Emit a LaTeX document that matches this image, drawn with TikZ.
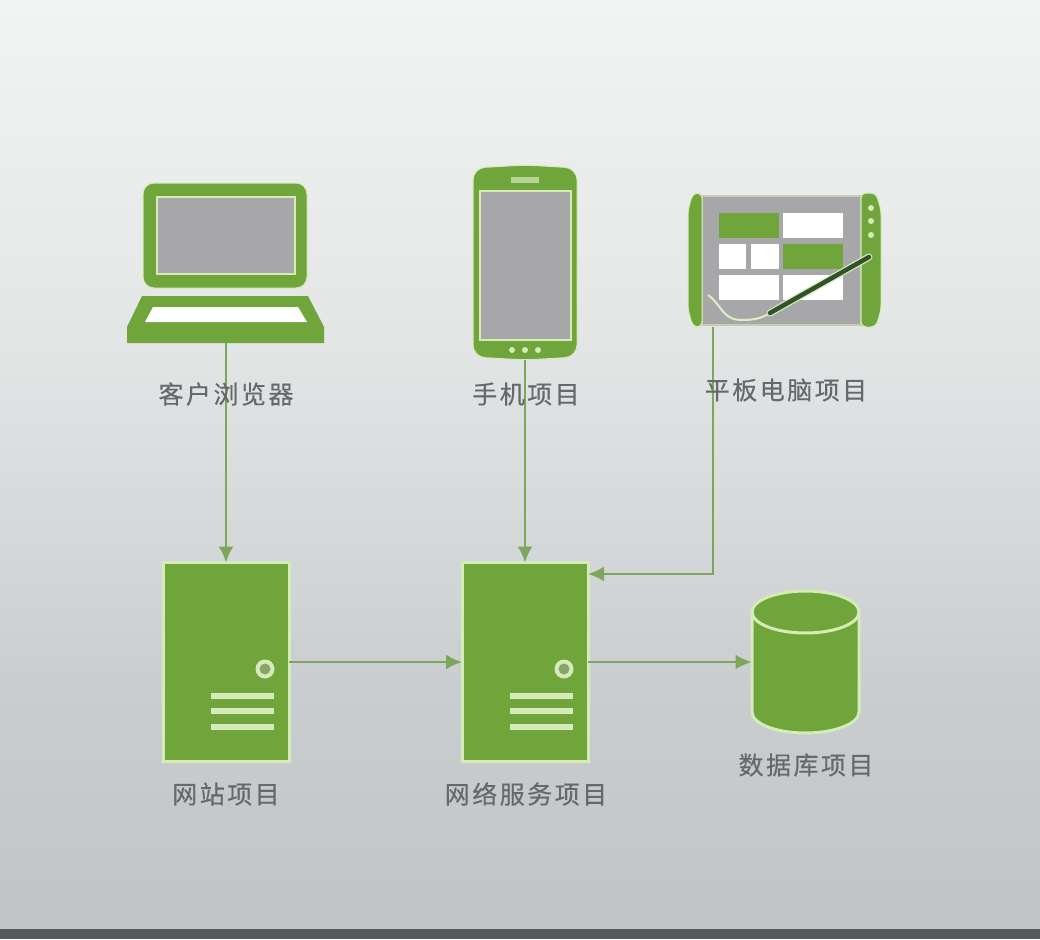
\documentclass[tikz,border=0pt]{standalone}
\usepackage{fontspec}
\usepackage{xcolor}
\newfontfamily\cjkfont[LetterSpace=10,FakeBold=0.35]{Noto Sans CJK SC}
\usetikzlibrary{arrows.meta}
\definecolor{leaf}{HTML}{6FA53A}
\definecolor{rim}{HTML}{D5EBB8}
\definecolor{wire}{HTML}{7DA65C}
\definecolor{glass}{HTML}{A7A6A9}
\definecolor{ink}{HTML}{65696B}
\definecolor{pen}{HTML}{33512A}
\definecolor{strip}{HTML}{55585C}
\pgfdeclareverticalshading{backdrop}{100bp}{rgb(0bp)=(0.757,0.773,0.776); rgb(25.6bp)=(0.757,0.773,0.776);
  rgb(37.7bp)=(0.788,0.804,0.812); rgb(48.4bp)=(0.847,0.859,0.863);
  rgb(59bp)=(0.902,0.910,0.910); rgb(75bp)=(0.949,0.953,0.953); rgb(100bp)=(0.949,0.953,0.953)}
\begin{document}
\begin{tikzpicture}[x=1pt,y=-1pt, link/.style={wire,line width=2.4pt,-{Latex[length=16pt,width=15pt]}},
    server/.style={fill=leaf,draw=rim,line width=3pt,minimum width=126pt,minimum height=199pt,outer sep=0pt,inner sep=0pt},
    icon/.style={inner sep=0pt,outer sep=0pt},
    title/.style={text=ink,font=\cjkfont\fontsize{25}{28}\selectfont,inner sep=0pt},
    tile/.style={fill=white}, greentile/.style={fill=leaf}]
  \useasboundingbox (0,0) rectangle (1040,939);
  \shade[shading=backdrop] (0,0) rectangle (1040,929);
  \fill[strip] (0,929) rectangle (1040,939);

  % anchors for the three devices and the database
  \node[icon,minimum width=197pt,minimum height=160pt] (laptop) at (226,263) {};
  \node[icon,minimum width=104pt,minimum height=195pt] (phone) at (525,262.5) {};
  \node[icon,minimum width=193pt,minimum height=134pt] (tablet) at (784.5,260) {};
  \node[server] (website) at (226,662) {};
  \node[server] (webservice) at (525,662) {};
  \node[icon,minimum width=108pt,minimum height=143pt] (database) at (805.5,662) {};

  % laptop
  \fill[leaf,draw=rim,line width=1pt,rounded corners=11pt] (143,288) -- (143,183) -- (307,183) -- (307,288) -- cycle;
  \fill[glass,draw=rim,line width=2.5pt] (157,197) rectangle (295,274);
  \fill[leaf] (142,296) -- (308,296) -- (324,327) -- (324,343) -- (127,343) -- (127,327) -- cycle;
  \fill[white] (153,307) -- (298,307) -- (307,322) -- (145,322) -- cycle;

  % phone
  \fill[leaf,draw=rim,line width=1pt,rounded corners=12pt] (473,168) -- (525,165) -- (577,168) -- (577,357) -- (525,360) -- (473,357) -- cycle;
  \fill[glass,draw=rim,line width=2.5pt] (480,191) rectangle (571,340);
  \fill[rim!70!leaf] (511,177) rectangle (539,183);
  \foreach \dotx in {512,525,538}
    \fill[rim] (\dotx,350) circle (3pt);

  % tablet
  \fill[glass,draw=rim!60!glass,line width=2pt] (702,196) rectangle (861,325);
  \fill[leaf,draw=rim,line width=1pt,rounded corners=5pt] (693,193) -- (702,193) -- (702,327) -- (693,327) -- (688,310) -- (688,210) -- cycle;
  \fill[leaf,draw=rim,line width=1pt,rounded corners=5pt] (861,193) -- (876,193) -- (881,210) -- (881,310) -- (876,327) -- (861,327) -- cycle;
  \fill[greentile] (719,213) rectangle (779,238);
  \fill[tile] (783,213) rectangle (843,238);
  \fill[tile] (719,244) rectangle (746,269);
  \fill[tile] (751,244) rectangle (779,269);
  \fill[greentile] (783,244) rectangle (843,269);
  \fill[tile] (719,275) rectangle (779,300);
  \fill[tile] (783,275) rectangle (843,300);
  \foreach \buty in {208,221,235}
    \fill[rim] (871,\buty) circle (3pt);
  \draw[rim!80!white,line width=2pt] (708,295) .. controls (722,305) and (722,320) .. (742,320) .. controls (755,320) and (762,318) .. (770,313);
  \draw[rim,line width=7pt,line cap=round] (770,313) -- (869,257);
  \draw[pen,line width=4.5pt,line cap=round] (770,313) -- (869,257);

  % servers
  \foreach \srv/\shift in {website/0,webservice/299} {
    \fill[rim] (265+\shift,669) circle (9.5pt);
    \fill[leaf!55!glass] (265+\shift,669) circle (5.5pt);
    \foreach \bary in {696,711,727}
      \fill[rim] (211+\shift,\bary-3) rectangle (274+\shift,\bary+3);
  }

  % database
  \fill[leaf,draw=rim,line width=3pt] (752,612) -- (752,712) arc [start angle=180,end angle=360,x radius=53.5pt,y radius=21pt] -- (859,612) arc [start angle=0,end angle=180,x radius=53.5pt,y radius=21pt] -- cycle;
  \draw[rim,line width=3pt] (752,612) arc [start angle=180,end angle=360,x radius=53.5pt,y radius=21pt];

  % connectors
  \coordinate (bend) at (713,574);
  \draw[link] (laptop.south) -- (website.north);
  \draw[link] (phone.south) -- (webservice.north);
  \draw[link] (tablet.south -| bend) -- (bend) -- (webservice.east |- bend);
  \draw[link] (website.east) -- (webservice.west);
  \draw[link] (webservice.east) -- (database.west);

  % labels
  \node[title] (laptoptitle) at (226,394) {客户浏览器};
  \node[title] (phonetitle) at (526,394) {手机项目};
  \node[title] (tablettitle) at (786,390) {平板电脑项目};
  \node[title] (websitetitle) at (226,794) {网站项目};
  \node[title] (webservicetitle) at (526,794) {网络服务项目};
  \node[title] (databasetitle) at (806,765) {数据库项目};
\end{tikzpicture}
\end{document}
